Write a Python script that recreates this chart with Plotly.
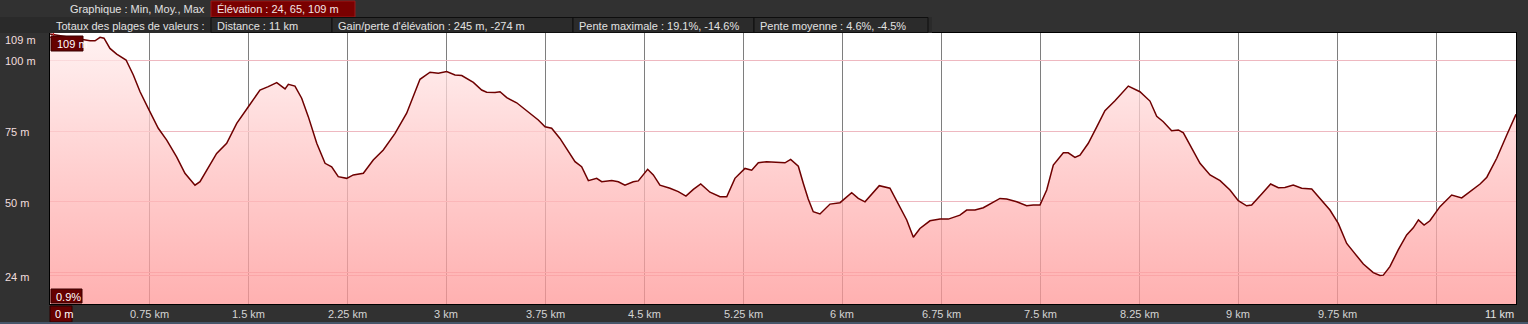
import plotly.graph_objects as go

# ---- data (distance in km, elevation in m) ----
dist_km = [0.000, 0.303, 0.341, 0.379, 0.409, 0.454, 0.505, 0.576, 0.631, 0.682,
           0.744, 0.820, 0.884, 0.959, 1.022, 1.098, 1.136, 1.212, 1.262, 1.338,
           1.414, 1.502, 1.590, 1.653, 1.717, 1.780, 1.805, 1.855, 1.906, 1.956,
           2.020, 2.083, 2.133, 2.183, 2.247, 2.297, 2.373, 2.448, 2.524, 2.613,
           2.701, 2.802, 2.878, 2.941, 3.004, 3.067, 3.118, 3.206, 3.269, 3.307,
           3.370, 3.408, 3.459, 3.534, 3.635, 3.698, 3.749, 3.799, 3.862, 3.913,
           3.976, 4.026, 4.077, 4.140, 4.178, 4.254, 4.304, 4.354, 4.417, 4.455,
           4.526, 4.569, 4.619, 4.695, 4.758, 4.816, 4.872, 4.928, 4.998, 5.074,
           5.125, 5.187, 5.263, 5.314, 5.364, 5.427, 5.528, 5.566, 5.609, 5.667,
           5.705, 5.742, 5.780, 5.831, 5.907, 5.983, 6.071, 6.121, 6.172, 6.223,
           6.280, 6.361, 6.437, 6.488, 6.538, 6.588, 6.664, 6.740, 6.803, 6.891,
           6.942, 7.005, 7.068, 7.131, 7.194, 7.245, 7.321, 7.396, 7.446, 7.497,
           7.548, 7.598, 7.674, 7.711, 7.762, 7.800, 7.863, 7.927, 7.989, 8.065,
           8.166, 8.254, 8.330, 8.381, 8.431, 8.494, 8.545, 8.583, 8.646, 8.709,
           8.785, 8.861, 8.936, 8.999, 9.062, 9.100, 9.176, 9.244, 9.302, 9.352,
           9.415, 9.479, 9.555, 9.617, 9.693, 9.756, 9.820, 9.870, 9.946, 10.021,
           10.072, 10.097, 10.147, 10.210, 10.274, 10.324, 10.363, 10.406, 10.450, 10.526,
           10.615, 10.691, 10.754, 10.830, 10.881, 10.956, 11.032, 11.102]
elev_m = [109.3, 106.9, 106.9, 108.1, 107.8, 104.2, 102.2, 100.1, 94.8, 88.9,
          83.0, 76.0, 71.8, 65.9, 60.1, 55.9, 57.1, 63.0, 67.1, 70.7,
          77.7, 83.6, 89.5, 90.7, 92.1, 89.9, 91.5, 90.9, 86.6, 80.1,
          70.7, 63.6, 62.4, 58.9, 58.3, 59.5, 60.1, 64.8, 68.3, 74.2,
          81.3, 93.3, 95.8, 95.4, 96.0, 94.8, 94.6, 92.2, 89.5, 88.7,
          88.6, 88.9, 86.8, 85.0, 81.3, 78.9, 76.5, 76.0, 72.4, 68.9,
          64.2, 62.4, 57.5, 58.3, 57.1, 57.5, 57.1, 55.9, 57.1, 57.4,
          61.5, 59.5, 55.9, 54.8, 53.6, 52.0, 54.4, 56.3, 53.4, 51.8,
          51.8, 58.3, 61.8, 61.2, 63.8, 64.2, 63.8, 63.8, 65.0, 62.6,
          56.5, 51.0, 46.5, 45.7, 49.2, 49.7, 53.2, 51.2, 50.0, 52.8,
          55.7, 54.8, 48.3, 43.6, 37.5, 40.6, 43.3, 43.9, 43.9, 45.3,
          47.1, 47.1, 47.9, 49.7, 51.2, 51.0, 50.0, 48.6, 48.9, 48.9,
          54.2, 63.0, 67.3, 67.3, 65.7, 66.5, 70.7, 76.5, 82.2, 85.7,
          90.9, 88.9, 85.6, 80.2, 78.3, 75.1, 75.4, 74.4, 68.9, 63.6,
          59.5, 57.5, 54.2, 50.4, 48.6, 48.9, 52.8, 56.3, 55.0, 55.1,
          55.9, 54.8, 54.5, 51.0, 47.1, 42.4, 35.3, 32.4, 28.0, 25.0,
          24.0, 24.1, 27.1, 33.0, 38.3, 40.8, 43.6, 41.8, 43.3, 48.3,
          52.4, 51.4, 53.6, 56.3, 58.7, 65.4, 73.6, 80.9]

x_grid_vals = [0.75, 1.5, 2.25, 3, 3.75, 4.5, 5.25, 6, 6.75, 7.5, 8.25, 9, 9.75, 10.5]
x_label_vals = [0.75, 1.5, 2.25, 3, 3.75, 4.5, 5.25, 6, 6.75, 7.5, 8.25, 9, 9.75]
x_label_text = ["0.75 km", "1.5 km", "2.25 km", "3 km", "3.75 km", "4.5 km", "5.25 km",
                "6 km", "6.75 km", "7.5 km", "8.25 km", "9 km", "9.75 km"]
y_grid_vals = [24, 25, 50, 75, 100]
y_label_vals = [24, 50, 75, 100, 109]
y_label_text = ["24 m", "50 m", "75 m", "100 m", "109 m"]

header_row1_label = "Graphique : Min, Moy., Max"
header_row1_box = "Élévation : 24, 65, 109 m"
header_row2_label = "Totaux des plages de valeurs :"
header_row2_boxes = ["Distance : 11 km", "Gain/perte d'élévation : 245 m, -274 m",
                     "Pente maximale : 19.1%, -14.6%", "Pente moyenne : 4.6%, -4.5%"]

# ---- layout geometry (pixels) ----
W, H = 1528, 324
L, R, T, B = 50, 1516, 33, 304
X_RANGE = [0, 11.102]
Y_RANGE = [13.9, 109.65]
FONT = "Liberation Sans, Arial, sans-serif"


def fx(px):
    return (px - L) / (R - L)


def fy(py):
    return (B - py) / (B - T)


fig = go.Figure()
fig.add_trace(go.Scatter(
    x=dist_km, y=elev_m, mode="lines",
    line=dict(color="#6e0000", width=1.5),
    fill="tozeroy",
    fillgradient=dict(type="vertical", start=Y_RANGE[0], stop=Y_RANGE[1],
                      colorscale=[[0, "rgba(255,150,150,0.75)"],
                                  [0.5, "rgba(255,192,192,0.75)"],
                                  [1, "rgba(255,238,238,0.75)"]]),
    hoverinfo="skip", showlegend=False,
))
fig.add_trace(go.Scatter(
    x=[dist_km[0]], y=[elev_m[0]], mode="markers",
    marker=dict(symbol="square-open", size=7, color="#d02828", line=dict(width=1.2)),
    hoverinfo="skip", showlegend=False,
))

shapes = []
annotations = []


def box(x0, y0, x1, y1, fill, border, width=1):
    shapes.append(dict(type="rect", xref="paper", yref="paper",
                       x0=fx(x0), x1=fx(x1), y0=fy(y1), y1=fy(y0),
                       fillcolor=fill, line=dict(color=border, width=width), layer="above"))


def text(px, py, s, color="#e2e2e2", anchor="left", size=11):
    annotations.append(dict(xref="paper", yref="paper", x=fx(px), y=fy(py), text=s,
                            showarrow=False, xanchor=anchor, yanchor="middle",
                            font=dict(family=FONT, size=size, color=color)))


# header row 2 background band
box(0, 17, 932, 33, "#2a2a2a", "#2a2a2a", 0)
# header row 1
text(207, 8.5, header_row1_label, anchor="right")
box(211, 1, 355, 17, "#7a0000", "#9a1a1a")
text(215, 9, header_row1_box, color="#f2e6e6")
# header row 2
text(207, 25.5, header_row2_label, anchor="right")
edges = [211, 332, 573, 754, 928]
for i, s in enumerate(header_row2_boxes):
    box(edges[i], 17.5, edges[i + 1], 32.5, "#2b2b2b", "#0e0e0e")
    text(edges[i] + 4, 25.5, s)

# y labels
y_px = {24: 276.5, 50: 203, 75: 132, 100: 60.7, 109: 40}
for v, s in zip(y_label_vals, y_label_text):
    text(3, y_px[v], s, color="#f2dede")

# x labels
for v, s in zip(x_label_vals, x_label_text):
    text(L + (R - L) * v / X_RANGE[1], 314, s, color="#d4d4d4", anchor="center")
text(R, 314, "11 km", color="#e4e4e4", anchor="right")

# value boxes
box(51, 36, 83, 51, "#650000", "#3a0000")
text(55, 44, "109 m", color="#ffffff")
box(51, 289, 82, 303, "#650000", "#3a0000")
text(54, 296.5, "0.9%", color="#ffffff")
box(50, 306, 72, 322, "#650000", "#2a0000")
text(53, 314, "0 m", color="#ffffff")

# bottom strip
shapes.append(dict(type="rect", xref="paper", yref="paper", x0=fx(0), x1=fx(W),
                   y0=fy(324), y1=fy(322), fillcolor="#46566a", line=dict(width=0)))

fig.update_layout(
    width=W, height=H,
    margin=dict(l=L, r=W - R, t=T, b=H - B, pad=0),
    paper_bgcolor="#313131", plot_bgcolor="#ffffff",
    font=dict(family=FONT, size=11, color="#e2e2e2"),
    xaxis=dict(range=X_RANGE, tickvals=x_grid_vals, showticklabels=False,
               showgrid=True, gridcolor="#7e7e7e", gridwidth=1, zeroline=False,
               showline=True, linecolor="#000000", linewidth=1, mirror=True, ticks=""),
    yaxis=dict(range=Y_RANGE, tickvals=y_grid_vals, showticklabels=False,
               showgrid=True, gridcolor="#eeb8c0", gridwidth=1, zeroline=False,
               showline=True, linecolor="#000000", linewidth=1, mirror=True, ticks=""),
    shapes=shapes, annotations=annotations,
    showlegend=False,
)

fig.write_html("out.html")
